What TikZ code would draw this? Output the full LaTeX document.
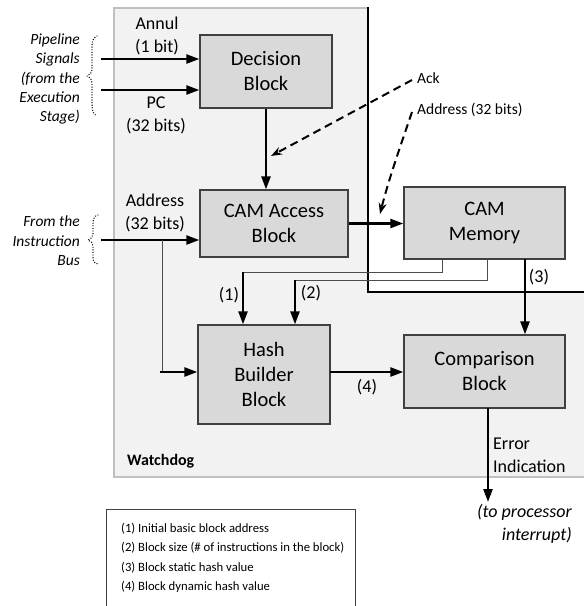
\documentclass[tikz,border=0pt]{standalone}
\usepackage{fontspec}
\setmainfont{Carlito}
\usetikzlibrary{arrows.meta}
\definecolor{blkfill}{HTML}{D9D9D9}
\definecolor{wdfill}{HTML}{F2F2F2}
\definecolor{wdline}{HTML}{C0C0C0}
\definecolor{blkline}{HTML}{404040}
\begin{document}
\begin{tikzpicture}[x=1pt,y=-1pt,
  blk/.style={draw=blkline, fill=blkfill, line width=1.3pt, align=center,
    font=\fontsize{20.5}{25}\selectfont, inner sep=0pt},
  lbl/.style={align=center, font=\fontsize{18}{23}\selectfont, inner sep=0pt},
  lbll/.style={align=left, font=\fontsize{18}{23}\selectfont, inner sep=0pt},
  sidetxt/.style={align=right, font=\fontsize{15.5}{19.4}\selectfont\itshape, inner sep=0pt},
  smalltxt/.style={font=\fontsize{15.5}{19}\selectfont, inner sep=0pt},
  legtxt/.style={font=\fontsize{12.7}{19.5}\selectfont, inner sep=0pt, anchor=base west},
  thickarrow/.style={line width=2.3pt, -{Triangle[length=13pt,width=9pt]}},
  dasharrow/.style={line width=2pt, dash pattern=on 8pt off 5pt, -{Stealth[length=11pt,width=8pt]}},
  thinline/.style={line width=0.9pt, draw=black!70},
  bracestyle/.style={line width=1.4pt, dash pattern=on 0pt off 2.6pt, line cap=round}
]
\useasboundingbox (0,0) rectangle (584,606);
\fill[white] (0,0) rectangle (584,606);

% watchdog region
\draw[wdline, fill=wdfill, line width=2pt]
  (114,8) -- (368,8) -- (368,292) -- (600,292) -- (600,477) -- (114,477) -- cycle;
\draw[black, line width=2.5pt] (368,7) -- (368,292) -- (600,292);

% blocks
\node[blk, minimum width=132pt, minimum height=73pt] (dec) at (266,71.5) {Decision\\Block};
\node[blk, minimum width=148pt, minimum height=67pt] (acc) at (274,223.5) {CAM Access\\Block};
\node[blk, minimum width=161pt, minimum height=72pt] (mem) at (484.5,223) {CAM\\Memory};
\node[blk, minimum width=132pt, minimum height=99pt] (hash) at (264,374.5) {Hash\\Builder\\Block};
\node[blk, minimum width=161pt, minimum height=73pt] (cmp) at (484.5,371.5) {Comparison\\Block};

% pipeline inputs
\coordinate (annulS) at (101,59);
\coordinate (pcS) at (101,90);
\coordinate (busS) at (101,240);
\draw[thickarrow] (annulS) -- (annulS -| dec.west);
\draw[thickarrow] (pcS) -- (pcS -| dec.west);
\draw[thickarrow] (busS) -- (busS -| acc.west);

\node[lbl] (annul) at (157,36) {Annul\\(1 bit)};
\node[lbl] (pc) at (156,115) {PC\\(32 bits)};
\node[lbl] (addr) at (155,212.5) {Address\\(32 bits)};

\node[sidetxt, anchor=east] (pipe) at (80,79) {Pipeline\\Signals\\(from the\\Execution\\Stage)};
\node[sidetxt, anchor=east] (instr) at (80,241) {From the\\Instruction\\Bus};

\draw[bracestyle] (97,36) .. controls (92,38) and (92,43) .. (92,50) -- (92,68)
  .. controls (92,73) and (90,75) .. (87,76) .. controls (90,77) and (92,79) .. (92,84)
  -- (92,104) .. controls (92,111) and (93,114) .. (97,116);
\draw[bracestyle] (98,215) .. controls (94,216) and (93,219) .. (93,224) -- (93,234)
  .. controls (93,237) and (91,239) .. (88,240) .. controls (91,241) and (93,243) .. (93,246)
  -- (93,257) .. controls (93,261) and (94,263) .. (98,264);

% decision -> cam access
\draw[thickarrow] (dec.south) -- (dec.south |- acc.north);

% bus branch to hash
\coordinate (brT) at (162,240);
\coordinate (brB) at (162,372);
\coordinate (brL) at (160,372);
\draw[thinline] (brT) -- (brB);
\draw[thickarrow] (brL) -- (brL -| hash.west);

% cam access -> cam memory
\draw[thickarrow] (acc.east) -- (acc.east -| mem.west);

% dashed external signals
\coordinate (ackS) at (412,80);
\coordinate (ackE) at (271,156);
\draw[dasharrow] (ackS) -- (ackE);
\node[smalltxt, anchor=west] (ack) at (417,78) {Ack};
\coordinate (adS) at (412,112);
\coordinate (adE) at (380,214);
\draw[dasharrow] (adS) .. controls (399,150) and (388,182) .. (adE);
\node[smalltxt, anchor=west] (adlbl) at (417,110) {Address (32 bits)};

% (1) and (2)
\coordinate (m1) at (442,259);
\coordinate (c1) at (442,272);
\coordinate (d1) at (243,272);
\draw[thinline] (m1) -- (c1) -- (d1);
\draw[thickarrow] (d1) -- (d1 |- hash.north);
\coordinate (m2) at (487,259);
\coordinate (c2) at (487,280);
\coordinate (d2) at (295,280);
\draw[thinline] (m2) -- (c2) -- (d2);
\draw[thickarrow] (d2) -- (d2 |- hash.north);
\node[lbl] (l1) at (229,295) {(1)};
\node[lbl] (l2) at (311,293) {(2)};

% (3)
\coordinate (m3) at (525,259);
\draw[thickarrow] (m3) -- (m3 |- cmp.north);
\node[lbl] (l3) at (539,277) {(3)};

% (4)
\coordinate (h4) at (330,372);
\draw[thickarrow] (h4) -- (h4 -| cmp.west);
\node[lbl] (l4) at (367,387) {(4)};

% error output
\coordinate (e1) at (488,408);
\coordinate (e2) at (488,502);
\draw[thickarrow] (e1) -- (e2);
\node[lbll, anchor=west] (err) at (493,455) {Error\\Indication};
\node[lbl, align=right, anchor=east, font=\fontsize{18}{23}\selectfont\itshape] (irq) at (572,523.5) {(to processor\\interrupt)};

\node[font=\fontsize{16}{19}\selectfont\bfseries, anchor=west, inner sep=0pt] (wd) at (127,461) {Watchdog};

% legend
\draw[blkline, line width=1pt] (106,612) -- (106,509) -- (355,509) -- (355,612);
\node[legtxt] (lg1) at (121,532) {(1) Initial basic block address};
\node[legtxt] (lg2) at (121,551.5) {(2) Block size (\# of instructions in the block)};
\node[legtxt] (lg3) at (121,571) {(3) Block static hash value};
\node[legtxt] (lg4) at (121,590.5) {(4) Block dynamic hash value};
\end{tikzpicture}
\end{document}
